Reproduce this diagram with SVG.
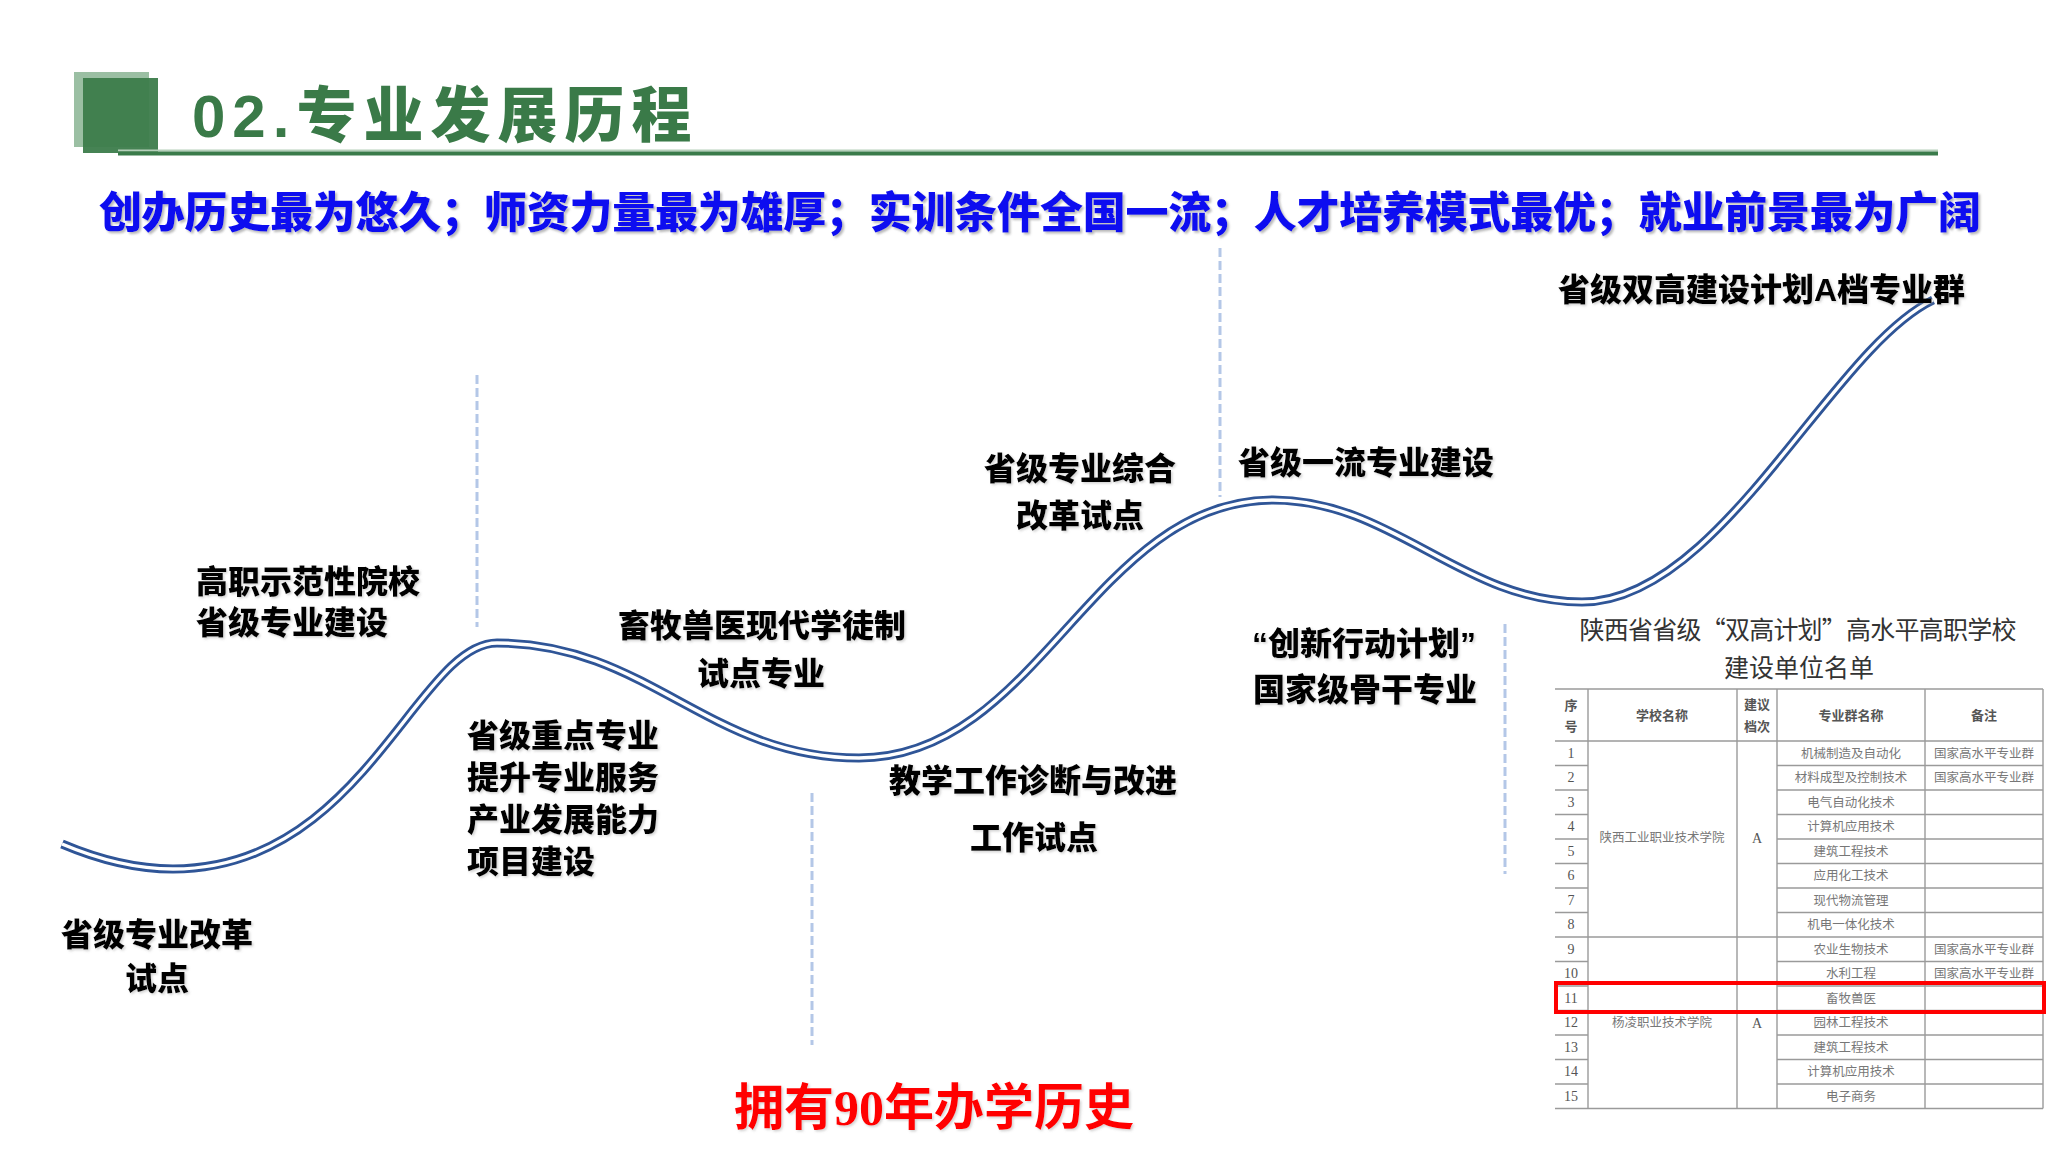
<svg xmlns="http://www.w3.org/2000/svg" width="2048" height="1152" viewBox="0 0 2048 1152">
<defs>
<filter id="sh" x="-5%" y="-20%" width="110%" height="140%">
<feDropShadow dx="2" dy="2" stdDeviation="1.2" flood-color="#808080" flood-opacity="0.55"/>
</filter>
<filter id="shl" x="-5%" y="-20%" width="110%" height="140%">
<feDropShadow dx="1.5" dy="1.5" stdDeviation="1" flood-color="#909090" flood-opacity="0.4"/>
</filter>
</defs>
<style>
.lbl{font-family:"Liberation Sans","Noto Sans CJK SC",sans-serif;font-weight:900;font-size:32px;fill:#000;}
.mid{text-anchor:middle;}
.dash{stroke:#B4C7E7;stroke-width:3;stroke-dasharray:9 4;fill:none;}
.tl{stroke:#9A9A9A;stroke-width:1.4;fill:none;}
.th{font-family:"Noto Sans CJK SC",sans-serif;font-weight:700;font-size:13px;fill:#555;text-anchor:middle;}
.tc{font-family:"Noto Sans CJK SC",sans-serif;font-size:12.5px;fill:#777;text-anchor:middle;}
.tn{font-family:"Liberation Serif",serif;font-size:14px;fill:#555;text-anchor:middle;}
</style>
<rect width="2048" height="1152" fill="#FFFFFF"/>

<g id="header">
<rect x="74" y="72" width="75" height="75" fill="#9BBFA3"/>
<rect x="83" y="78" width="75" height="75" fill="#3C7C4B" fill-opacity="0.95"/>
<rect x="118" y="149.5" width="1820" height="2" fill="#B5D0BA"/>
<rect x="118" y="151.5" width="1820" height="4" fill="#3A7B4A"/>
<text x="192" y="137" font-family="Liberation Sans,'Noto Sans CJK SC',sans-serif" font-weight="900" font-size="60" letter-spacing="7" fill="#3A7A48">02.专业发展历程</text>
</g>

<g id="subtitle">
<text x="99" y="228" textLength="1882" lengthAdjust="spacing" font-family="'Noto Sans CJK SC',sans-serif" font-weight="900" font-size="43" fill="#0A0AF0" filter="url(#sh)">创办历史最为悠久；师资力量最为雄厚；实训条件全国一流；人才培养模式最优；就业前景最为广阔</text>
</g>

<g id="connectors">
<line class="dash" x1="477" y1="375" x2="477" y2="627"/>
<line class="dash" x1="812" y1="793" x2="812" y2="1045"/>
<line class="dash" x1="1220" y1="248" x2="1220" y2="497"/>
<line class="dash" x1="1505" y1="624" x2="1505" y2="874"/>
<path id="curve" d="M62,844 C95,858 135,869 173,869 C363,869 417,643 497,643 C647,643 709,758 859,758 C1039,758 1093,500 1273,500 C1393,500 1462,602 1582,602 C1720,602 1830,350 1933,300" fill="none" stroke="#2F5597" stroke-width="9"/>
<path d="M62,844 C95,858 135,869 173,869 C363,869 417,643 497,643 C647,643 709,758 859,758 C1039,758 1093,500 1273,500 C1393,500 1462,602 1582,602 C1720,602 1830,350 1933,300" fill="none" stroke="#FFFFFF" stroke-width="3.4"/>
</g>

<g id="n1" filter="url(#shl)">
<text class="lbl mid" x="157" y="946" font-size="34">省级专业改革</text>
<text class="lbl mid" x="157" y="990" font-size="34">试点</text>
</g>
<g id="n2" filter="url(#shl)">
<text class="lbl" x="196" y="593">高职示范性院校</text>
<text class="lbl" x="196" y="634">省级专业建设</text>
</g>
<g id="n3" filter="url(#shl)">
<text class="lbl" x="467" y="747">省级重点专业</text>
<text class="lbl" x="467" y="789">提升专业服务</text>
<text class="lbl" x="467" y="831">产业发展能力</text>
<text class="lbl" x="467" y="873">项目建设</text>
</g>
<g id="n4" filter="url(#shl)">
<text class="lbl mid" x="762" y="637">畜牧兽医现代学徒制</text>
<text class="lbl mid" x="761" y="685">试点专业</text>
</g>
<g id="n5" filter="url(#shl)">
<text class="lbl mid" x="1033" y="792">教学工作诊断与改进</text>
<text class="lbl mid" x="1034" y="849">工作试点</text>
</g>
<g id="n6" filter="url(#shl)">
<text class="lbl mid" x="1080" y="480">省级专业综合</text>
<text class="lbl mid" x="1080" y="527">改革试点</text>
</g>
<g id="n7" filter="url(#shl)">
<text class="lbl" x="1238" y="474">省级一流专业建设</text>
</g>
<g id="n8" filter="url(#shl)">
<text class="lbl mid" x="1364" y="655">“创新行动计划”</text>
<text class="lbl mid" x="1365" y="701">国家级骨干专业</text>
</g>
<g id="n9" filter="url(#shl)">
<text class="lbl" x="1558" y="301">省级双高建设计划A档专业群</text>
</g>

<g id="history">
<text x="934" y="1125" text-anchor="middle" font-family="'Liberation Serif','Noto Sans CJK SC',serif" font-weight="700" font-size="50" fill="#FF0000" filter="url(#shl)">拥有90年办学历史</text>
</g>

<g id="table">
<text x="1798" y="639" text-anchor="middle" textLength="437" lengthAdjust="spacing" font-family="'Noto Sans CJK SC',sans-serif" font-size="25" fill="#333">陕西省省级“双高计划”高水平高职学校</text>
<text x="1799" y="677" text-anchor="middle" font-family="'Noto Sans CJK SC',sans-serif" font-size="25" fill="#333">建设单位名单</text>
<line class="tl" x1="1555" y1="689" x2="2043" y2="689" stroke-width="2"/>
<line class="tl" x1="1555" y1="741" x2="2043" y2="741" stroke-width="2"/>
<line class="tl" x1="1555" y1="937" x2="2043" y2="937"/>
<line class="tl" x1="1555" y1="1108.5" x2="2043" y2="1108.5" stroke-width="2"/>
<line class="tl" x1="1588" y1="689" x2="1588" y2="1108.5"/>
<line class="tl" x1="1737" y1="689" x2="1737" y2="1108.5"/>
<line class="tl" x1="1777" y1="689" x2="1777" y2="1108.5"/>
<line class="tl" x1="1925" y1="689" x2="1925" y2="1108.5"/>
<line class="tl" x1="2043" y1="689" x2="2043" y2="1108.5"/>
<path class="tl" d="M1555,765.5H1588M1555,790H1588M1555,814.5H1588M1555,839H1588M1555,863.5H1588M1555,888H1588M1555,912.5H1588M1555,961.5H1588M1555,986H1588M1555,1010.5H1588M1555,1035H1588M1555,1059.5H1588M1555,1084H1588"/>
<path class="tl" d="M1777,765.5H2043M1777,790H2043M1777,814.5H2043M1777,839H2043M1777,863.5H2043M1777,888H2043M1777,912.5H2043M1777,961.5H2043M1777,986H2043M1777,1010.5H2043M1777,1035H2043M1777,1059.5H2043M1777,1084H2043"/>
<text class="th" x="1571" y="710">序</text>
<text class="th" x="1571" y="731">号</text>
<text class="th" x="1662" y="720">学校名称</text>
<text class="th" x="1757" y="709">建议</text>
<text class="th" x="1757" y="731">档次</text>
<text class="th" x="1851" y="720">专业群名称</text>
<text class="th" x="1984" y="720">备注</text>
<text class="tn" x="1571" y="758">1</text>
<text class="tn" x="1571" y="782">2</text>
<text class="tn" x="1571" y="807">3</text>
<text class="tn" x="1571" y="831">4</text>
<text class="tn" x="1571" y="856">5</text>
<text class="tn" x="1571" y="880">6</text>
<text class="tn" x="1571" y="905">7</text>
<text class="tn" x="1571" y="929">8</text>
<text class="tn" x="1571" y="954">9</text>
<text class="tn" x="1571" y="978">10</text>
<text class="tn" x="1571" y="1003">11</text>
<text class="tn" x="1571" y="1027">12</text>
<text class="tn" x="1571" y="1052">13</text>
<text class="tn" x="1571" y="1076">14</text>
<text class="tn" x="1571" y="1101">15</text>
<text class="tc" x="1662" y="842" fill="#888">陕西工业职业技术学院</text>
<text class="tc" x="1662" y="1027" fill="#888">杨凌职业技术学院</text>
<text class="tn" x="1757" y="843">A</text>
<text class="tn" x="1757" y="1028">A</text>
<text class="tc" x="1851" y="758">机械制造及自动化</text>
<text class="tc" x="1851" y="782">材料成型及控制技术</text>
<text class="tc" x="1851" y="807">电气自动化技术</text>
<text class="tc" x="1851" y="831">计算机应用技术</text>
<text class="tc" x="1851" y="856">建筑工程技术</text>
<text class="tc" x="1851" y="880">应用化工技术</text>
<text class="tc" x="1851" y="905">现代物流管理</text>
<text class="tc" x="1851" y="929">机电一体化技术</text>
<text class="tc" x="1851" y="954">农业生物技术</text>
<text class="tc" x="1851" y="978">水利工程</text>
<text class="tc" x="1851" y="1003">畜牧兽医</text>
<text class="tc" x="1851" y="1027">园林工程技术</text>
<text class="tc" x="1851" y="1052">建筑工程技术</text>
<text class="tc" x="1851" y="1076">计算机应用技术</text>
<text class="tc" x="1851" y="1101">电子商务</text>
<text class="tc" x="1984" y="758">国家高水平专业群</text>
<text class="tc" x="1984" y="782">国家高水平专业群</text>
<text class="tc" x="1984" y="954">国家高水平专业群</text>
<text class="tc" x="1984" y="978">国家高水平专业群</text>
<rect x="1556" y="983" width="488" height="29" fill="none" stroke="#FF0000" stroke-width="4"/>
</g>
</svg>
